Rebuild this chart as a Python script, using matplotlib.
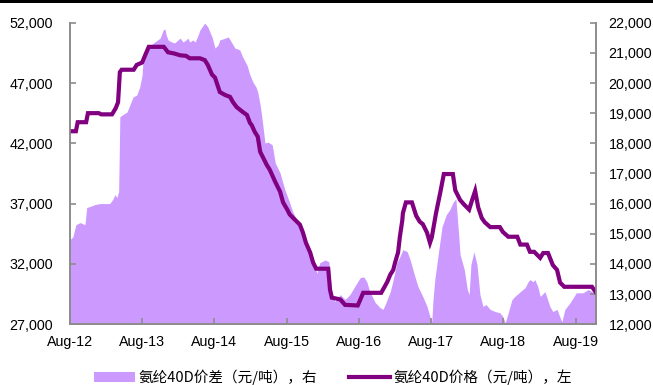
import matplotlib.pyplot as plt
from matplotlib.patches import Rectangle
from matplotlib.ticker import FuncFormatter

plt.rcParams['font.family'] = ['Liberation Sans', 'Noto Sans CJK SC', 'DejaVu Sans']

# months counted from Aug-2012
price_t = [0, 1.0, 1.3, 2.7, 3.0, 4.8, 5.2, 7.0, 7.6, 8.0, 8.3, 8.6, 10.6, 11.1, 12.0,
           12.5, 13.1, 15.6, 16.3, 17.3, 18.3, 19.3, 19.9, 21.6, 22.4, 22.9, 23.6, 24.1,
           24.6, 24.9, 25.8, 26.6, 27.1, 27.7, 28.7, 29.4, 29.9, 30.2, 30.7, 31.2, 31.6,
           32.1, 32.7, 33.2, 34.1, 34.9, 35.4, 36.1, 36.5, 37.4, 38.2, 38.7, 39.2, 39.9,
           40.4, 40.9, 42.9, 43.2, 43.5, 44.9, 45.7, 47.8, 48.2, 48.7, 51.7, 52.7, 53.2,
           53.7, 54.0, 54.5, 54.8, 55.2, 55.3, 55.8, 56.8, 57.5, 58.1, 58.6, 59.3, 59.8,
           60.1, 60.8, 61.5, 62.1, 63.6, 64.0, 64.8, 65.5, 66.3, 66.8, 67.3, 67.8, 68.4,
           68.9, 69.8, 71.4, 71.9, 72.8, 74.3, 74.8, 75.9, 76.4, 77.1, 78.1, 78.6, 79.4,
           80.2, 80.9, 81.4, 82.1, 86.7, 87.4]
price = [43000, 43000, 43750, 43750, 44500, 44500, 44400, 44400, 44900, 45400, 47900,
         48100, 48100, 48500, 48700, 49300, 50000, 50000, 49550, 49450, 49300, 49250,
         49050, 49050, 48900, 48500, 47700, 47450, 46700, 46250, 46000, 45850, 45400,
         45000, 44600, 44350, 43700, 43500, 42950, 42550, 41300, 40800, 40200, 39800,
         38800, 38000, 37100, 36500, 36100, 35650, 35250, 34600, 33750, 32950, 32100,
         31600, 31600, 29850, 29200, 29050, 28600, 28550, 29000, 29600, 29600, 30500,
         31100, 31500, 32100, 32950, 34250, 35600, 36200, 37100, 37100, 36000, 35500,
         35300, 34600, 33750, 34200, 36200, 37900, 39450, 39450, 38100, 37300, 36900,
         36500, 37300, 38050, 36700, 35800, 35450, 35050, 35050, 34650, 34250, 34250,
         33600, 33600, 33000, 33000, 32500, 32900, 32900, 31900, 31500, 30450, 30100,
         30100, 29600]

spread_t = [0, 0.5, 1.0, 1.7, 2.5, 2.8, 3.3, 4.2, 5.0, 6.6, 7.1, 7.5, 7.8, 8.1, 8.3, 8.8,
            9.5, 10.5, 11.1, 11.6, 12.0, 12.1, 12.5, 13.3, 14.1, 15.0, 15.5, 15.8, 16.0,
            16.3, 16.9, 17.4, 18.3, 18.8, 19.3, 19.6, 19.9, 20.4, 20.8, 21.3, 21.6, 22.4,
            22.9, 23.6, 24.1, 24.6, 24.9, 25.8, 26.3, 26.9, 27.4, 28.2, 28.7, 29.4, 29.9,
            30.4, 30.9, 31.2, 31.6, 31.9, 32.4, 32.9, 33.6, 34.1, 34.9, 35.7, 36.5, 37.0,
            37.4, 38.2, 39.0, 39.9, 40.7, 41.0, 41.5, 42.4, 43.0, 43.5, 44.0, 44.9, 45.7,
            46.5, 47.3, 48.2, 48.8, 49.3, 49.8, 50.7, 51.5, 52.0, 52.5, 53.2, 53.7, 54.3,
            54.8, 55.3, 56.0, 56.5, 57.1, 57.8, 58.6, 59.3, 59.8, 60.1, 60.3, 60.6, 61.0,
            61.5, 61.8, 62.5, 63.1, 63.6, 64.1, 64.5, 64.8, 65.5, 66.0, 66.3, 66.6, 67.1,
            67.6, 68.1, 68.6, 69.1, 69.8, 70.6, 71.4, 71.9, 72.3, 72.8, 73.4, 73.9, 74.8,
            75.6, 76.1, 76.4, 76.9, 77.2, 77.7, 78.1, 78.9, 79.7, 80.2, 80.9, 81.4, 81.7,
            82.2, 83.1, 83.6, 84.1, 85.2, 86.1, 87.0, 87.4]
spread = [14800, 14900, 15300, 15370, 15300, 15870, 15900, 15970, 16000, 16000, 16130,
          16300, 16200, 16400, 18880, 18950, 19040, 19540, 19600, 19870, 20270, 20600,
          21030, 21230, 21360, 21490, 21760, 21790, 21590, 21430, 21360, 21330, 21490,
          21360, 21430, 21490, 21360, 21430, 21360, 21590, 21760, 21990, 21860, 21530,
          21160, 21260, 21430, 21490, 21530, 21330, 21160, 21100, 20860, 20600, 20270,
          20030, 19870, 19700, 19270, 18840, 18010, 18040, 17950, 17350, 17020, 16460,
          16030, 15730, 15570, 15230, 14640, 14210, 13980, 13680, 14040, 14130, 14070,
          13080, 12750, 12980, 12820, 12980, 13250, 13540, 13570, 13410, 13080, 12720,
          12550, 12490, 12720, 13080, 13480, 14040, 14240, 14470, 14410, 14140, 13710,
          13250, 12920, 12590, 12250, 12080, 12810, 13480, 14070, 14800, 15230, 15630,
          15800, 16030, 16160, 15130, 14310, 13810, 13150, 12980, 13980, 14400, 13980,
          12980, 12590, 12650, 12490, 12420, 12380, 12250, 12050, 12380, 12810, 12920,
          13080, 13210, 13410, 13480, 13410, 13480, 13250, 12920, 13080, 12590, 12420,
          12490, 12220, 12080, 12490, 12720, 12880, 13040, 13040, 13150, 13040, 12980]

tick_pos = [0, 12, 24, 36, 48, 60, 72, 84]
tick_lbl = ['Aug-12', 'Aug-13', 'Aug-14', 'Aug-15', 'Aug-16', 'Aug-17', 'Aug-18', 'Aug-19']

area_color = '#CC99FF'
line_color = '#800080'
spine_color = '#8C8C8C'

fig = plt.figure(figsize=(6.53, 3.85), dpi=100)
ax = fig.add_axes([0.107, 0.158, 0.806, 0.783])
ax2 = ax.twinx()

ax2.fill_between(spread_t, 12000, spread, color=area_color, lw=0,
                 label='氨纶40D价差（元/吨），右')
ax.plot(price_t, price, color=line_color, lw=3, solid_joinstyle='miter',
        label='氨纶40D价格（元/吨），左')

ax.set_zorder(ax2.get_zorder() + 1)
ax.patch.set_visible(False)

ax.set_xlim(0, 87.4)
ax.set_ylim(27000, 52000)
ax.set_yticks(range(27000, 52001, 5000))
ax2.set_ylim(12000, 22000)
ax2.set_yticks(range(12000, 22001, 1000))
fmt = FuncFormatter(lambda v, p: f'{v:,.0f}')
ax.yaxis.set_major_formatter(fmt)
ax2.yaxis.set_major_formatter(fmt)
ax.set_xticks(tick_pos)
ax.set_xticklabels(tick_lbl)

for a in (ax, ax2):
    a.spines['top'].set_visible(False)
    for s in ('left', 'right', 'bottom'):
        a.spines[s].set_color(spine_color)
        a.spines[s].set_linewidth(1.2)
    a.tick_params(direction='in', length=4, width=1.2, color=spine_color,
                  labelsize=10.3, labelcolor='black')
ax.tick_params(axis='y', pad=12)
ax2.tick_params(axis='y', pad=9)
ax.tick_params(axis='x', pad=8)

# thin black band along the top edge
fig.add_artist(Rectangle((0, 1 - 2.5 / 385), 1, 2.5 / 385, transform=fig.transFigure,
                         color='black', lw=0))

h1, l1 = ax2.get_legend_handles_labels()
h2, l2 = ax.get_legend_handles_labels()
fig.legend(h1 + h2, l1 + l2, loc='center', bbox_to_anchor=(0.51, 0.02), ncol=2,
           frameon=False, handlelength=2.8, handletextpad=0.25, columnspacing=2.2,
           prop={'family': ['Noto Sans CJK SC', 'DejaVu Sans'], 'size': 10.5})

fig.savefig('out.png', dpi=100)
